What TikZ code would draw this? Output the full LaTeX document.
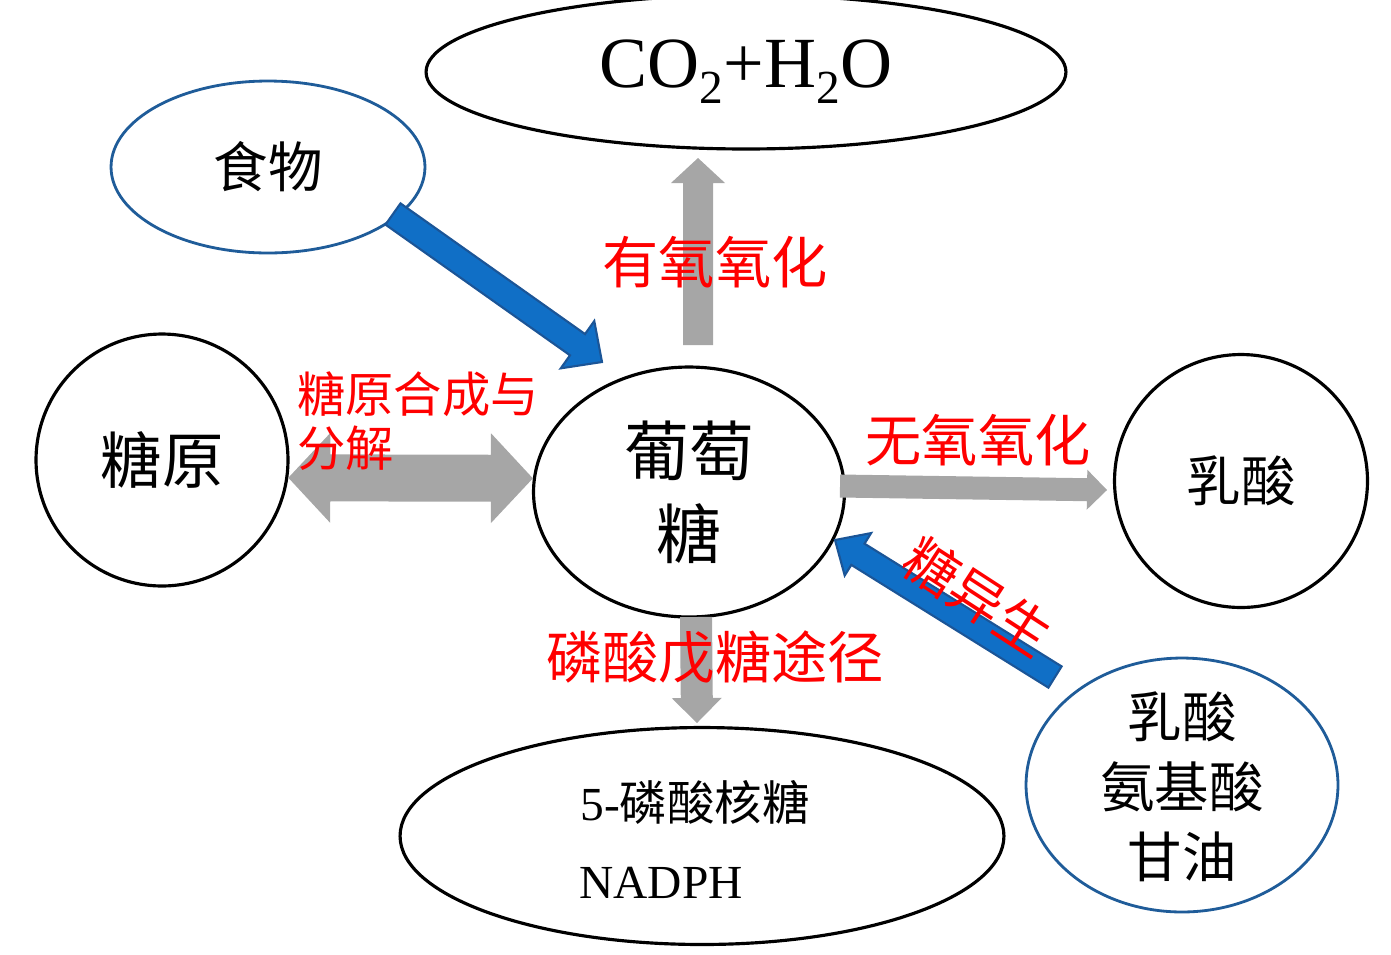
\documentclass[tikz,border=0pt]{standalone}
\usepackage{fontspec}
\setmainfont{Liberation Serif}
\newfontfamily\cjk{Noto Sans CJK SC}
\usepackage{xcolor}
\usepackage{tikz}
\usetikzlibrary{shapes.geometric,calc}

\definecolor{arrowgray}{HTML}{A6A6A6}
\definecolor{arrowblue}{HTML}{106FC6}
\definecolor{edgeblue}{HTML}{1B5597}
\definecolor{bubbleblue}{HTML}{1F5C99}

\tikzset{
  bubble/.style={ellipse, draw=black, line width=1.8pt, fill=white, inner sep=0pt},
  bluebubble/.style={bubble, draw=bubbleblue, line width=1.6pt},
  graybar/.style={fill=arrowgray},
  bluebar/.style={fill=arrowblue, draw=edgeblue, line width=1.2pt, line join=miter},
  redlabel/.style={text=red, font=\cjk\fontsize{32}{36}\selectfont, inner sep=0pt}
}

% Index, etwas groesser als \textsubscript
\newcommand\idx[1]{\raisebox{-0.22em}{\fontsize{27}{30}\selectfont #1}}

% block arrow: [style]{start}{end}{half shaft}{half head}{head length}
\newcommand\blockarrow[6][]{%
  \coordinate (ba-h) at ($(#3)!#6!(#2)$);
  \path[#1] ($(#2)!#4!90:(#3)$) -- ($(ba-h)!#4!90:(#3)$) -- ($(ba-h)!#5!90:(#3)$) -- (#3)
    -- ($(ba-h)!#5!-90:(#3)$) -- ($(ba-h)!#4!-90:(#3)$) -- ($(#2)!#4!-90:(#3)$) -- cycle;}

% same with a head on both ends
\newcommand\dblarrow[6][]{%
  \coordinate (da-a) at ($(#2)!#6!(#3)$);
  \coordinate (da-b) at ($(#3)!#6!(#2)$);
  \path[#1] (#2) -- ($(da-a)!#5!90:(#3)$) -- ($(da-a)!#4!90:(#3)$) -- ($(da-b)!#4!90:(#3)$)
    -- ($(da-b)!#5!90:(#3)$) -- (#3) -- ($(da-b)!#5!-90:(#3)$) -- ($(da-b)!#4!-90:(#3)$)
    -- ($(da-a)!#4!-90:(#3)$) -- ($(da-a)!#5!-90:(#3)$) -- cycle;}

\begin{document}
\begin{tikzpicture}[x=0.02cm, y=-0.02cm]
    \useasboundingbox (0,0) rectangle (1391,954);

    % Stoffe
    \node[bubble, minimum width=12.8cm, minimum height=3.08cm, font=\fontsize{41}{46}\selectfont] (co2) at (746,72) {CO\idx{2}+H\idx{2}O};
    \node[bluebubble, minimum width=6.28cm, minimum height=3.44cm, font=\cjk\fontsize{31}{36}\selectfont] (food) at (268,167) {食物};
    \node[bubble, circle, minimum size=5.04cm, font=\cjk\fontsize{35}{40}\selectfont] (gly) at (162,460) {糖原};
    \node[bubble, minimum width=6.22cm, minimum height=5cm, align=center, font=\cjk\fontsize{37}{47}\selectfont] (glc) at (689,492) {葡萄\\糖};
    \node[bubble, circle, minimum size=5.06cm, font=\cjk\fontsize{31}{36}\selectfont] (lac) at (1241,481) {乳酸};
    \node[bubble, minimum width=12.08cm, minimum height=4.34cm] (rib) at (702,836) {};
    \node[bluebubble, minimum width=6.24cm, minimum height=5.08cm] (pre) at (1182,785) {};

    \node[font=\fontsize{27}{30}\selectfont] (rib-a) at (695,802) {5-{\cjk 磷酸核糖}};
    \node[font=\fontsize{27}{30}\selectfont] (rib-b) at (661,883) {NADPH};
    \node[align=center, font=\cjk\fontsize{31}{39.7}\selectfont] (pre-txt) at (1182,787) {乳酸\\氨基酸\\甘油};

    % Pfeile
    \coordinate (up-s) at (698,345);
    \coordinate (up-e) at (698,158);
    \coordinate (dn-s) at (696,617);
    \coordinate (dn-e) at (697,723);
    \coordinate (rt-s) at (840,486);
    \coordinate (rt-e) at (1107,490);
    \coordinate (fd-s) at (393,214);
    \coordinate (fd-e) at (602,362);
    \coordinate (gn-s) at (1055,677);
    \coordinate (gn-e) at (835,540);

    \blockarrow[graybar]{up-s}{up-e}{0.3cm}{0.54cm}{0.5cm}
    \blockarrow[graybar]{dn-s}{dn-e}{0.32cm}{0.5cm}{0.5cm}
    \blockarrow[graybar]{rt-s}{rt-e}{0.23cm}{0.4cm}{0.4cm}
    \dblarrow[graybar]{gly.-8}{glc.175}{0.47cm}{0.9cm}{0.84cm}
    \blockarrow[bluebar]{fd-s}{fd-e}{0.26cm}{0.58cm}{0.6cm}
    \blockarrow[bluebar]{gn-s}{gn-e}{0.25cm}{0.5cm}{0.54cm}

    % Beschriftung
    \node[redlabel] (l-up) at (715,262) {有氧氧化};
    \node[redlabel, font=\cjk\fontsize{27.5}{31}\selectfont, align=left, anchor=west] (l-gly) at (297,421) {糖原合成与\\分解};
    \node[redlabel] (l-an) at (978,440) {无氧氧化};
    \node[redlabel, font=\cjk\fontsize{31}{36}\selectfont, rotate=-33] (l-gn) at (978,597) {糖异生};
    \node[redlabel] (l-ppp) at (715,657) {磷酸戊糖途径};
\end{tikzpicture}
\end{document}
